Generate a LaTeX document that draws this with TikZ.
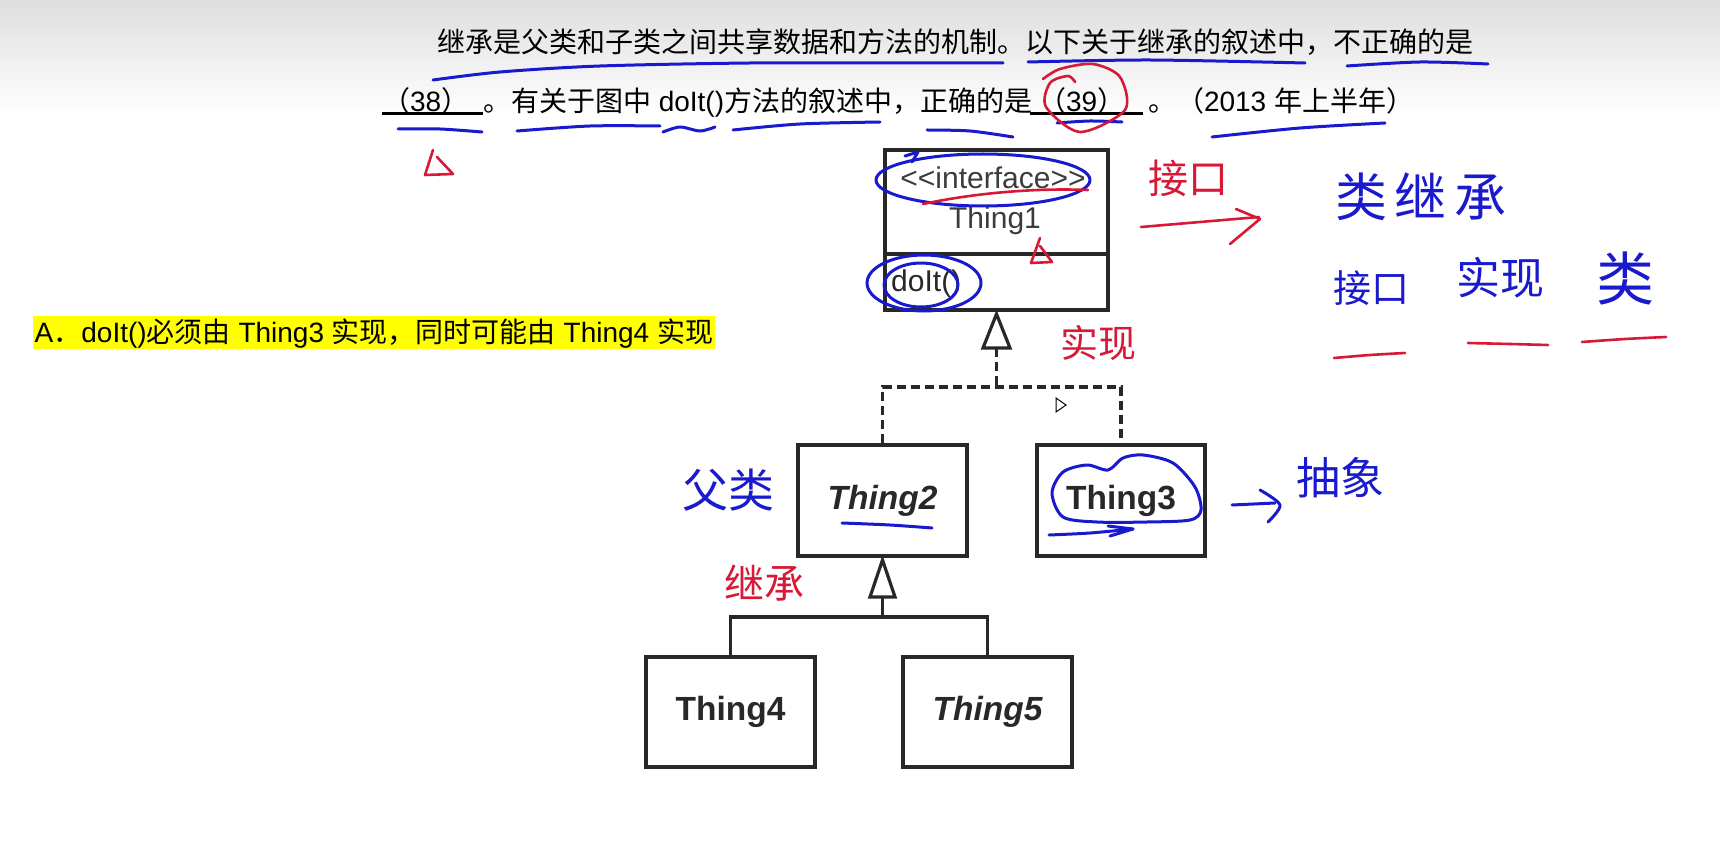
\documentclass[tikz,border=0pt]{standalone}
\usepackage{fontspec}
\setmainfont{Liberation Sans}
\newfontfamily\cjk{Noto Sans CJK SC}
\newfontfamily\ari{Liberation Sans}
\usetikzlibrary{calc}
\definecolor{inkblue}{RGB}{25,25,205}
\definecolor{inkred}{RGB}{215,25,55}
\definecolor{hl}{RGB}{255,255,0}
\definecolor{umlgray}{RGB}{40,40,40}
\definecolor{ifgray}{RGB}{60,60,60}
\tikzset{
 qtext/.style={anchor=base west, inner sep=0pt, outer sep=0pt, font=\fontsize{28}{28}\selectfont, text=black},
 umlbox/.style={draw=umlgray, line width=4pt, fill=white, inner sep=0pt},
 conn/.style={draw=umlgray, line width=3.5pt},
 dconn/.style={conn, dash pattern=on 9pt off 5pt},
 tri/.style={draw=umlgray, line width=3.2pt, fill=white, line join=miter},
 bink/.style={draw=inkblue, line width=3pt, line cap=round, line join=round},
 rink/.style={draw=inkred, line width=2.6pt, line cap=round, line join=round},
 bhand/.style={text=inkblue, inner sep=0pt},
 rhand/.style={text=inkred, inner sep=0pt},
 cls/.style={font=\fontsize{33.5}{34}\selectfont\bfseries, text=umlgray},
 uml/.style={font=\fontsize{30}{30}\selectfont, text=ifgray, inner sep=0pt},
 uline/.style={draw=black, line width=2.5pt},
}
\newcommand{\hw}[1]{\cjk\fontsize{#1}{#1}\selectfont}
\begin{document}
\begin{tikzpicture}[x=1pt,y=-1pt]
\useasboundingbox (0,0) rectangle (1720,850);
\fill[white] (0,0) rectangle (1720,850);
\shade[top color={rgb,255:red,222;green,222;blue,222}, bottom color=white] (0,0) rectangle (1720,115);

% question text
\node[qtext] (q1) at (437,53) {\cjk 继承是父类和子类之间共享数据和方法的机制。以下关于继承的叙述中，不正确的是};
\node[qtext] (q2a) at (382,111.5) {{\cjk （}38{\cjk ）}};
\node[qtext] (q2b) at (483,111.5) {{\cjk 。有关于图中}\ doIt(){\cjk 方法的叙述中，正确的是}};
\node[qtext] (q2c) at (1038,111.5) {{\cjk （}39{\cjk ）}};
\node[qtext] (q2d) at (1148,111.5) {{\cjk 。（}2013\ {\cjk 年上半年）}};
\draw[uline] ($(q2a.base west)+(0,2)$) -- ($(q2b.base west)+(0,2)$);
\draw[uline] ($(q2c.base west)+(-8,2)$) -- ($(q2d.base west)+(-5,2)$);

% option A
\node[fill=hl, anchor=west, inner xsep=1.5pt, inner ysep=2.5pt, text height=24pt, text depth=4pt,
      font=\fontsize{28}{28}\selectfont] (optA) at (33,332.5)
  {A{\cjk ．}doIt(){\cjk 必须由}\ Thing3\ {\cjk 实现，同时可能由}\ Thing4\ {\cjk 实现}};

% UML diagram
\node[umlbox, minimum width=223pt, minimum height=160pt] (t1) at (996.5,230) {};
\draw[draw=umlgray, line width=4pt] (t1.west |- 0,254) -- (t1.east |- 0,254);
\node[uml, anchor=base] (iface) at (993,189) {<{}<interface>{}>};
\node[uml, anchor=base] (t1name) at (995,229) {Thing1};
\node[uml, anchor=base west, text=umlgray] (doit) at (891,291) {doIt()};

\node[umlbox, cls, minimum width=169pt, minimum height=111pt] (t2) at (882.5,500.5) {\itshape Thing2};
\node[umlbox, cls, minimum width=168pt, minimum height=111pt] (t3) at (1121,500.5) {Thing3};
\node[umlbox, cls, minimum width=169pt, minimum height=110pt] (t4) at (730.5,712) {Thing4};
\node[umlbox, cls, minimum width=169pt, minimum height=110pt] (t5) at (987.5,712) {\itshape Thing5};

% realization
\draw[tri] ($(t1.south)+(0,2)$) -- ++(-13.5,34) -- ++(27,0) -- cycle;
\coordinate (a1) at ($(t1.south)+(0,36)$);
\coordinate (j1) at (996.5,387);
\draw[dconn] (a1) -- (j1);
\draw[dconn] (t2.north) |- (j1) -| (t3.north);

% generalization
\draw[tri] ($(t2.south)+(0,2)$) -- ++(-12.5,37) -- ++(25,0) -- cycle;
\coordinate (a2) at ($(t2.south)+(0,39)$);
\coordinate (j2) at (882.5,617);
\draw[conn] (a2) -- (j2);
\draw[conn] (t4.north) |- (j2) -| (t5.north);

% mouse cursor
\draw[black, line width=1pt, fill=white] (1056,398) -- (1056,412) -- (1066,405) -- cycle;

% ---- handwritten annotations ----
\draw[bink] plot[smooth] coordinates {(433,80) (500,72) (600,66) (750,63) (900,63) (1003,63)};
\draw[bink] plot[smooth] coordinates {(1028,62) (1150,60) (1305,63)};
\draw[bink] plot[smooth] coordinates {(1347,66) (1420,62) (1488,64)};
\draw[bink] plot[smooth] coordinates {(398,129) (440,129) (482,132)};
\draw[bink] plot[smooth] coordinates {(517,131) (590,126) (660,126)};
\draw[bink] plot[smooth] coordinates {(663,132) (680,127) (700,131) (715,127)};
\draw[bink] plot[smooth] coordinates {(733,130) (800,124) (880,122)};
\draw[bink] plot[smooth] coordinates {(927,130) (970,131) (1013,137)};
\draw[bink] plot[smooth] coordinates {(1057,123) (1090,121) (1122,122)};
\draw[bink] plot[smooth] coordinates {(1212,137) (1300,128) (1385,123)};
\draw[rink] plot[smooth] coordinates {(1075,82) (1068,76) (1050,83) (1046,107) (1080,132) (1125,110) (1120,77) (1093,64) (1060,69) (1043,79)};
\draw[rink] (433,150) -- (425,175) -- (453,174) -- (437,157);

\draw[bink] (983,180) ellipse [x radius=107, y radius=26];
\draw[bink] (905,156) -- (918,152) -- (912,162);
\draw[rink] (923,204) .. controls (980,192) and (1040,188) .. (1088,190);
\draw[rink] (1040,238) -- (1031,263) -- (1052,262) -- (1040,246);
\draw[bink] (924,283) ellipse [x radius=57, y radius=28];
\draw[bink] (921,285) ellipse [x radius=37, y radius=22];

\draw[bink] plot[smooth] coordinates {(842,523) (890,525) (932,528)};
\draw[bink] plot[smooth cycle] coordinates {(1052,493) (1063,472) (1087,465) (1108,470) (1123,458) (1143,455) (1173,463) (1195,487) (1201,510) (1190,520) (1147,522) (1097,522) (1063,517)};
\draw[bink] plot[smooth] coordinates {(1049,535) (1090,533) (1133,529)};
\draw[bink] (1108,526) -- (1133,529) -- (1110,536);

\draw[rink] (1141,227) -- (1259,217);
\draw[rink] (1236,209) -- (1260,219) -- (1230,244);
\node[rhand, font=\hw{40}] (h1) at (1188,178) {接口};
\node[rhand, font=\hw{38}] (h2) at (1098,343) {实现};
\node[bhand, font=\hw{52}] (h3) at (1421,197) {类\hspace{8pt}继\hspace{8pt}承};
\node[bhand, font=\hw{38}] (h4) at (1371,288) {接口};
\node[bhand, font=\hw{44}] (h5) at (1500,278) {实现};
\node[bhand, font=\hw{58}] (h6) at (1625,278) {类};
\draw[rink] plot[smooth] coordinates {(1334,358) (1370,355) (1405,353)};
\draw[rink] plot[smooth] coordinates {(1468,343) (1510,344) (1548,345)};
\draw[rink] plot[smooth] coordinates {(1582,342) (1625,339) (1666,337)};

\node[bhand, font=\hw{46}] (h7) at (728,490) {父类};
\node[bhand, font=\hw{44}] (h8) at (1340,478) {抽象};
\draw[bink] (1232,505) -- (1275,503);
\draw[bink] plot[smooth] coordinates {(1260,490) (1280,505) (1268,522)};
\node[rhand, font=\hw{40}] (h9) at (764,583) {继承};
\end{tikzpicture}
\end{document}
